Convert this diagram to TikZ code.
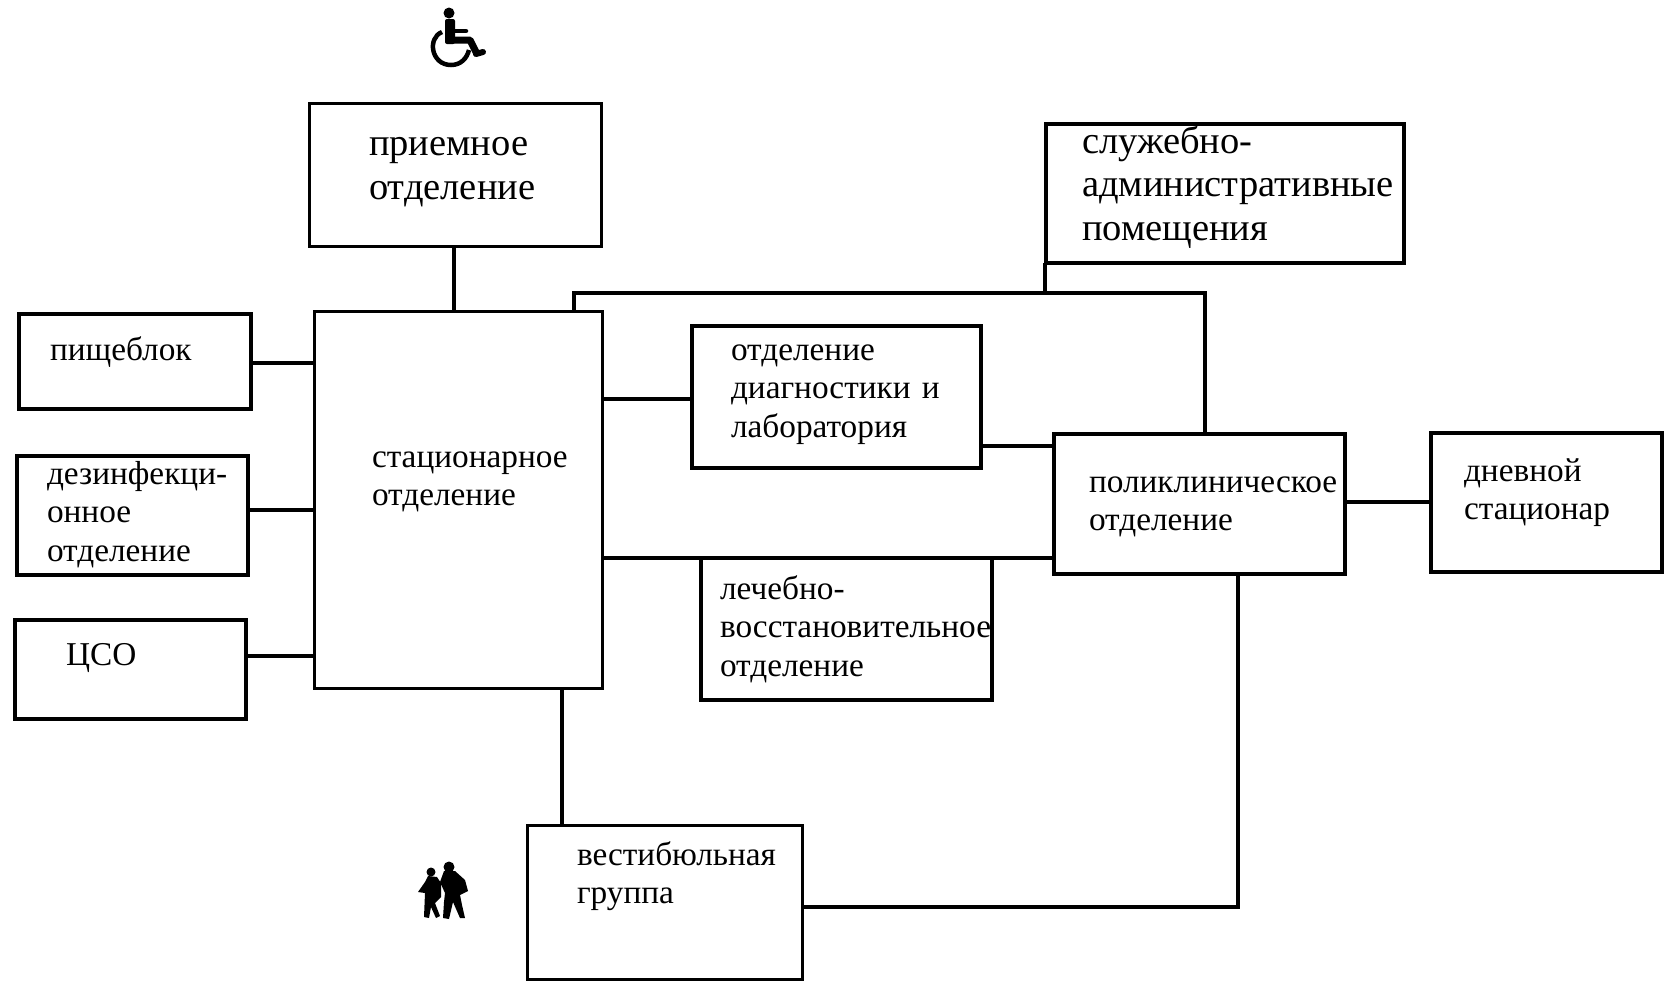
\documentclass[tikz,border=0pt]{standalone}
\usepackage{fontspec}
\setmainfont{Liberation Serif}
\hyphenpenalty=10000
\tikzset{
	cell/.style n args={4}{draw,anchor=north west,line width=4.5pt,outer sep=0pt,inner ysep=0pt,inner xsep=#3pt,align=left,
		text width=\dimexpr#1pt-#3pt-#3pt\relax,text height=#4pt,text depth=\dimexpr#2pt-#4pt\relax,
		font=\fontsize{33.3}{38.8}\selectfont},
	thinbox/.style={line width=3pt},
	link/.style={line width=4.5pt}
}
\begin{document}
\begin{tikzpicture}[x=1pt,y=-1pt]
	\useasboundingbox (0,0) rectangle (1667,989);

	\node[cell={292}{143}{60}{52},thinbox,font=\fontsize{38.5}{44}\selectfont] (priem) at (309,103) {приемное\\отделение};
	\node[cell={288}{377}{58}{156},thinbox] (stat) at (314,311) {стационарное\\отделение};
	\node[cell={358}{139}{36}{29},font=\fontsize{38.5}{43.6}\selectfont] (sluzh) at (1046,124) {служебно-\\\mbox{административные}\\помещения};
	\node[cell={232}{95}{31}{46}] (pishch) at (19,314) {пищеблок};
	\node[cell={231}{119}{30}{28}] (dezinf) at (17,456) {\mbox{дезинфекци-}\\онное\\отделение};
	\node[cell={231}{99}{51}{45}] (cso) at (15,620) {ЦСО};
	\node[cell={289}{142}{39}{34}] (diagn) at (692,326) {отделение\\диагностики~и\\лаборатория};
	\node[cell={291}{142}{19}{41}] (lech) at (701,558) {лечебно-\\\mbox{восстановительное}\\отделение};
	\node[cell={291}{140}{35}{58}] (polik) at (1054,434) {\mbox{поликлиническое}\\отделение};
	\node[cell={231}{139}{33}{48}] (dnev) at (1431,433) {дневной\\стационар};
	\node[cell={275}{154}{50}{40},thinbox] (vest) at (527,825) {вестибюльная\\группа};

	\coordinate (jpriem) at (454,0);
	\coordinate (jtop) at (0,293);
	\coordinate (jstat) at (574,0);
	\coordinate (jright) at (1205,0);
	\coordinate (jsluzh) at (1045,0);
	\coordinate (jpish) at (0,363);
	\coordinate (jdez) at (0,510);
	\coordinate (jcso) at (0,656);
	\coordinate (jdiagn) at (0,399);
	\coordinate (jdp) at (0,446);
	\coordinate (jlech) at (0,558);
	\coordinate (jvest) at (562,0);
	\coordinate (jlow) at (1238,0);
	\coordinate (jwalk) at (0,907);
	\coordinate (jdnev) at (0,502);

	\draw[link] (priem.south -| jpriem) -- (stat.north -| jpriem);
	\draw[link] (stat.north -| jstat) -- (jstat |- jtop) -- (jright |- jtop) -- (polik.north -| jright);
	\draw[link] (sluzh.south -| jsluzh) -- (jsluzh |- jtop);
	\draw[link] (pishch.east |- jpish) -- (stat.west |- jpish);
	\draw[link] (dezinf.east |- jdez) -- (stat.west |- jdez);
	\draw[link] (cso.east |- jcso) -- (stat.west |- jcso);
	\draw[link] (stat.east |- jdiagn) -- (diagn.west |- jdiagn);
	\draw[link] (diagn.east |- jdp) -- (polik.west |- jdp);
	\draw[link] (stat.east |- jlech) -- (polik.west |- jlech);
	\draw[link] (polik.east |- jdnev) -- (dnev.west |- jdnev);
	\draw[link] (stat.south -| jvest) -- (vest.north -| jvest);
	\draw[link] (vest.east |- jwalk) -- (jlow |- jwalk) -- (polik.south -| jlow);

	% wheelchair
	\fill (449,13) circle (5.5);
	\fill[rounded corners=2pt] (445,19) rectangle (455,44);
	\draw[line width=4.5pt,line cap=round] (452,31) -- (466,31);
	\draw[line width=7pt,line join=round] (449,40) -- (470,40) -- (477,54);
	\draw[line width=6pt,line cap=round] (476,54) -- (483,52);
	\draw[line width=4.5pt] (442,32) .. controls (427,38) and (431,65) .. (451,65) .. controls (461,65) and (467,58) .. (469,50);

	% walkers
	\fill (449,867) circle (5.5);
	\fill (431,872) circle (4.5);
	\fill (444,871) -- (455,871) -- (465,880) -- (468,891) -- (460,895) -- (462,905) -- (465,918) -- (460,918) -- (453,902) -- (449,919) -- (443,918) -- (444,902) -- (445,893) -- (440,882) -- cycle;
	\fill (428,876) -- (437,877) -- (441,883) -- (441,897) -- (435,903) -- (440,916) -- (436,918) -- (431,907) -- (429,918) -- (424,917) -- (425,893) -- (418,892) -- (425,882) -- cycle;
\end{tikzpicture}
\end{document}
